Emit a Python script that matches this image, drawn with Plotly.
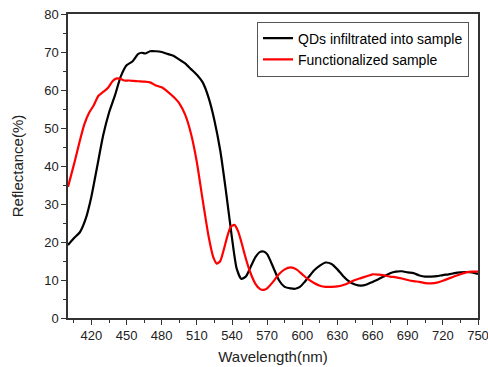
import plotly.graph_objects as go

wl_black = [400, 405, 410, 415, 420, 425, 430, 435, 440, 445, 450, 455, 460, 463, 466, 470, 475, 480, 485, 490,
            495, 500, 505, 510, 515, 520, 525, 530, 535, 540, 544, 548, 552, 556, 560, 564, 567, 570, 575, 580,
            585, 590, 594, 598, 602, 606, 610, 615, 620, 625, 630, 635, 640, 645, 650, 655, 660, 665, 670, 675,
            680, 685, 690, 695, 700, 705, 710, 715, 720, 725, 730, 735, 740, 745, 750]
r_black = [19.2, 21, 22.5, 26, 32, 40, 48, 54, 58.5, 63.5, 66.5, 67.5, 69.5, 69.8, 69.6, 70.2, 70.2, 70, 69.5, 69,
           68, 67, 65.5, 64, 62, 58, 52, 44, 33, 21, 13, 10.3, 11, 13.5, 16, 17.4, 17.5, 16.8, 13.5, 10,
           8.2, 7.8, 7.7, 8.2, 9.5, 11, 12.5, 13.8, 14.6, 14.2, 12.8, 11, 9.6, 8.8, 8.5, 8.8, 9.5, 10.2, 11, 11.8,
           12.2, 12.3, 12, 11.8, 11.2, 10.9, 10.9, 11, 11.3, 11.5, 11.8, 12, 12.1, 12.0, 11.6]

wl_red = [400, 403, 406, 410, 414, 418, 422, 426, 430, 434, 438, 441, 444, 448, 452, 456, 460, 465, 470, 475,
          480, 485, 490, 495, 500, 505, 510, 515, 520, 524, 527, 530, 533, 536, 539, 542, 545, 548, 551, 555,
          560, 564, 567, 570, 575, 580, 585, 590, 595, 600, 605, 610, 615, 620, 625, 630, 635, 640, 645, 650,
          655, 660, 665, 670, 675, 680, 685, 690, 695, 700, 705, 710, 715, 720, 725, 730, 735, 740, 745, 750]
r_red = [34.5, 38, 41.5, 46.5, 51, 54, 56, 58.5, 59.5, 60.5, 62.3, 63, 63, 62.5, 62.5, 62.4, 62.3, 62.2, 62, 61.2,
         60.7, 59.6, 58.2, 56.5, 53.5, 48.5, 41, 31, 21.5, 16, 14.3, 15, 18, 21.5, 24, 24.5, 23, 20, 16.5, 12.5,
         9, 7.6, 7.4, 7.8, 9.5, 11.5, 12.8, 13.3, 12.8, 11.5, 10.2, 9.2, 8.5, 8.2, 8.2, 8.3, 8.7, 9.3, 10, 10.5,
         11, 11.5, 11.4, 11.2, 10.9, 10.7, 10.4, 10, 9.7, 9.5, 9.2, 9.1, 9.3, 9.8, 10.4, 11, 11.5, 12, 12.2, 12.2]

x_ticks = [420, 450, 480, 510, 540, 570, 600, 630, 660, 690, 720, 750]
y_ticks = [0, 10, 20, 30, 40, 50, 60, 70, 80]

FONT = "Liberation Sans, Arial"

fig = go.Figure()
fig.add_trace(go.Scatter(x=wl_black, y=r_black, mode="lines", name="QDs infiltrated into sample",
                         line=dict(color="black", width=2.2, shape="spline", smoothing=0.6)))
fig.add_trace(go.Scatter(x=wl_red, y=r_red, mode="lines", name="Functionalized sample",
                         line=dict(color="#ff0000", width=2.2, shape="spline", smoothing=0.6)))

axis_common = dict(showgrid=False, zeroline=False, showline=True, linecolor="#333333", linewidth=1.5,
                   mirror=True, ticks="outside", ticklen=5, tickwidth=1.2, tickcolor="#333333",
                   automargin=False, ticklabeloverflow="allow",
                   tickfont=dict(family=FONT, size=13, color="#222222"))

fig.update_xaxes(range=[400, 750], tickvals=x_ticks, **axis_common,
                 minor=dict(ticks="outside", ticklen=3, tickcolor="#333333", dtick=15, tick0=405),
                 title=dict(text="Wavelength(nm)", font=dict(family=FONT, size=15, color="#222222"),
                            standoff=9))
fig.update_yaxes(range=[0, 80], tickvals=y_ticks, **axis_common,
                 minor=dict(ticks="outside", ticklen=3, tickcolor="#333333", dtick=5, tick0=0),
                 title=dict(text="Reflectance(%)", font=dict(family=FONT, size=15, color="#222222"),
                            standoff=17))

fig.update_layout(
    width=488, height=367,
    margin=dict(l=68, r=10, t=14, b=49),
    plot_bgcolor="white", paper_bgcolor="white",
    legend=dict(x=0.461, y=0.975, xanchor="left", yanchor="top", bgcolor="white",
                bordercolor="#555555", borderwidth=1, tracegroupgap=0,
                font=dict(family=FONT, size=14, color="black"),
                itemwidth=30),
    showlegend=True,
)

fig.write_html("out.html")
